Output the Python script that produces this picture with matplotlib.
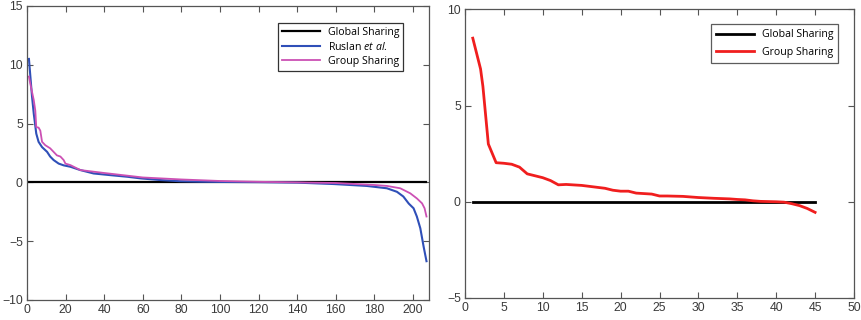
import matplotlib
matplotlib.use("Agg")
import matplotlib.pyplot as plt

# ---------------- data ----------------
# Left panel
left_global_x = [1, 207]
left_global_y = [0, 0]

ruslan_x = [1, 2.6, 3.5, 4.8, 6, 7.8, 10.4, 12, 13.8, 16.4, 19, 22.5, 27.6, 34.5,
            43, 52, 59, 69, 79.4, 90, 100, 120, 140, 159, 176, 186.5, 191.7, 195,
            197.8, 200.3, 202, 203.8, 205.5, 207]
ruslan_y = [10.5, 7.3, 5.85, 4.15, 3.45, 3.0, 2.6, 2.2, 1.9, 1.6, 1.45, 1.33, 1.05, 0.76,
            0.62, 0.48, 0.34, 0.2, 0.1, 0.06, 0.04, 0.02, -0.02, -0.14, -0.3, -0.5, -0.8, -1.2,
            -1.8, -2.2, -2.9, -3.9, -5.45, -6.7]

group_x = [1, 1.7, 3.5, 4.3, 4.8, 6, 6.9, 7.8, 9.5, 12, 15.5, 17.3, 19, 19.9, 22.5,
           27.6, 40, 60, 80, 100, 120, 140, 160, 180, 186.5, 193.4, 198.6, 202, 204.7,
           206, 207]
group_y = [9.0, 8.4, 7.0, 6.1, 4.7, 4.66, 4.4, 3.45, 3.16, 2.9, 2.3, 2.2, 1.9, 1.6, 1.47,
           1.05, 0.8, 0.42, 0.25, 0.12, 0.05, 0.0, -0.05, -0.22, -0.3, -0.5, -0.93, -1.36, -1.78,
           -2.2, -2.9]

# Right panel
right_global_x = [1, 45]
right_global_y = [0, 0]

red_x = [1, 2, 2.3, 3, 4, 5, 6, 7, 8, 9, 10, 11, 12, 13, 15, 16, 17, 18, 19, 20, 21,
         22, 24, 25, 26, 28, 30, 32, 34, 35, 36, 37, 38, 40, 41, 42, 43, 44, 45]
red_y = [8.5, 6.9, 6.0, 3.0, 2.03, 2.0, 1.95, 1.8, 1.45, 1.35, 1.25, 1.1, 0.88, 0.9, 0.85,
         0.8, 0.75, 0.7, 0.6, 0.55, 0.55, 0.45, 0.4, 0.3, 0.3, 0.28, 0.22, 0.18, 0.15, 0.12,
         0.1, 0.05, 0.02, 0.0, -0.02, -0.1, -0.2, -0.35, -0.55]

left_xticks = list(range(0, 201, 20))
left_yticks = [-10, -5, 0, 5, 10, 15]
right_xticks = list(range(0, 51, 5))
right_yticks = [-5, 0, 5, 10]

# ---------------- style ----------------
plt.rcParams['mathtext.fontset'] = 'custom'
plt.rcParams['mathtext.rm'] = 'Open Sans'
plt.rcParams['mathtext.it'] = 'Open Sans:italic'

tick_font = dict(family='Liberation Sans', size=8.8)
leg_font = dict(family='Open Sans', size=7.6)
spine_col = '#555555'
tick_col = '#3a3a3a'

fig = plt.figure(figsize=(8.61, 3.2), dpi=100)
axL = fig.add_axes([27/861, 1-300/320, (429-27)/861, (300-6)/320])
axR = fig.add_axes([465/861, 1-298/320, (854-465)/861, (298-9.3)/320])

def style(ax):
    for s in ax.spines.values():
        s.set_color(spine_col)
        s.set_linewidth(0.9)
    ax.tick_params(direction='in', top=True, right=True, length=4, width=0.8,
                   color=spine_col, labelcolor=tick_col, pad=3)
    for lab in ax.get_xticklabels() + ax.get_yticklabels():
        lab.set_fontfamily(tick_font['family'])
        lab.set_fontsize(tick_font['size'])

# Left
axL.plot(left_global_x, left_global_y, color='black', lw=1.6, label='Global Sharing')
axL.plot(ruslan_x, ruslan_y, color='#2F4FB8', lw=1.5, label=r'Ruslan $\mathit{et\ al.}$')
axL.plot(group_x, group_y, color='#CC50B4', lw=1.3, label='Group Sharing')
axL.set_xlim(0, 208.3)
axL.set_ylim(-10, 15)
axL.set_xticks(left_xticks)
axL.set_yticks(left_yticks)
style(axL)
legL = axL.legend(loc='upper left', bbox_to_anchor=((278-27)/402, 1-(22.5-6)/294),
                  prop=leg_font, frameon=True, fancybox=False, handlelength=3.6,
                  borderpad=0.4, labelspacing=0.3, handletextpad=0.7, borderaxespad=0)
legL.get_frame().set_edgecolor('black')
legL.get_frame().set_linewidth(0.9)

# Right
axR.plot(right_global_x, right_global_y, color='black', lw=2.0, label='Global Sharing')
axR.plot(red_x, red_y, color='#F01E1E', lw=2.0, label='Group Sharing')
axR.set_xlim(0, 50)
axR.set_ylim(-5, 10)
axR.set_xticks(right_xticks)
axR.set_yticks(right_yticks)
style(axR)
legR = axR.legend(loc='upper left', bbox_to_anchor=((711-465)/389, 1-(24-9.3)/288.7),
                  prop=leg_font, frameon=True, fancybox=False, handlelength=3.6,
                  borderpad=0.5, labelspacing=0.6, handletextpad=0.7, borderaxespad=0)
legR.get_frame().set_edgecolor('#333333')
legR.get_frame().set_linewidth(0.9)

fig.savefig('out.png', dpi=100)
